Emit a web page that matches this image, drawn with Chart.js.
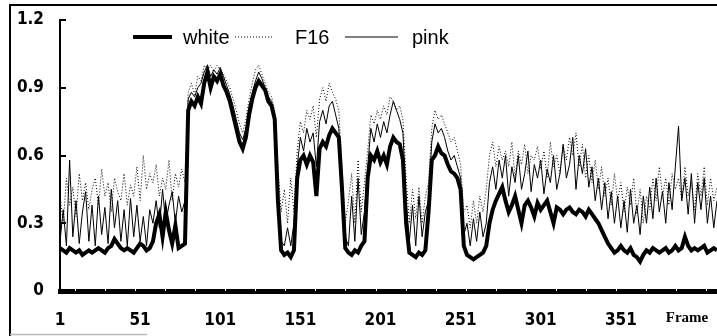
<!DOCTYPE html>
<html><head><meta charset="utf-8">
<script src="https://cdn.jsdelivr.net/npm/chart.js@4/dist/chart.umd.min.js"></script>
<style>html,body{margin:0;padding:0;background:#fff;overflow:hidden}#wrap{position:relative;width:717px;height:336px}</style>
</head><body><div id="wrap"><canvas id="c" width="717" height="336"></canvas></div>
<script>
// Frames sampled every 2 frames: 1,3,5,...,411
const firstFrame = 1, frameStep = 2, frameCount = 206;
const xTickLabels = ['1','51','101','151','201','251','301','351'];
const yTicks = [0, 0.3, 0.6, 0.9, 1.2];
const seriesNames = ['white', 'F16', 'pink'];

const white = [
0.19,0.18,0.17,0.19,0.18,0.17,0.18,0.16,0.17,0.18,
0.17,0.18,0.19,0.18,0.17,0.19,0.20,0.23,0.21,0.19,
0.18,0.19,0.18,0.17,0.19,0.21,0.20,0.18,0.19,0.22,
0.30,0.34,0.24,0.35,0.27,0.21,0.29,0.19,0.20,0.21,
0.80,0.84,0.82,0.86,0.83,0.92,0.97,0.90,0.95,0.93,
0.96,0.91,0.88,0.84,0.78,0.72,0.66,0.63,0.68,0.78,
0.85,0.90,0.93,0.91,0.89,0.84,0.82,0.76,0.40,0.18,
0.16,0.17,0.15,0.18,0.50,0.58,0.60,0.56,0.60,0.57,
0.42,0.63,0.66,0.64,0.69,0.72,0.70,0.68,0.45,0.19,
0.17,0.16,0.18,0.17,0.20,0.22,0.50,0.60,0.58,0.62,
0.57,0.60,0.56,0.64,0.68,0.66,0.65,0.58,0.30,0.17,
0.16,0.15,0.17,0.16,0.18,0.35,0.58,0.60,0.64,0.61,
0.60,0.56,0.53,0.52,0.50,0.45,0.20,0.16,0.15,0.14,
0.15,0.16,0.17,0.20,0.30,0.36,0.40,0.43,0.46,0.40,
0.35,0.38,0.42,0.36,0.30,0.38,0.40,0.37,0.33,0.39,
0.36,0.38,0.40,0.35,0.30,0.37,0.36,0.34,0.36,0.37,
0.35,0.34,0.36,0.35,0.33,0.36,0.34,0.32,0.30,0.27,
0.24,0.21,0.19,0.17,0.18,0.20,0.18,0.17,0.19,0.16,
0.15,0.13,0.16,0.18,0.17,0.19,0.18,0.17,0.18,0.19,
0.17,0.18,0.20,0.18,0.19,0.24,0.20,0.18,0.19,0.18,
0.19,0.20,0.17,0.18,0.19,0.18];

const f16 = [
0.42,0.30,0.50,0.38,0.46,0.33,0.52,0.40,0.48,0.36,
0.45,0.50,0.38,0.54,0.42,0.48,0.35,0.50,0.44,0.40,
0.52,0.38,0.47,0.42,0.55,0.40,0.60,0.45,0.52,0.48,
0.56,0.42,0.50,0.45,0.58,0.40,0.52,0.46,0.54,0.48,
0.88,0.92,0.87,0.95,0.93,1.00,0.98,1.00,0.97,1.00,
0.98,0.96,0.93,0.90,0.85,0.80,0.74,0.70,0.76,0.85,
0.92,0.98,1.00,0.96,0.92,0.88,0.86,0.80,0.55,0.35,
0.45,0.30,0.50,0.35,0.62,0.75,0.70,0.80,0.76,0.82,
0.68,0.85,0.90,0.84,0.92,0.88,0.85,0.80,0.55,0.30,
0.40,0.52,0.30,0.58,0.35,0.48,0.62,0.78,0.74,0.80,
0.76,0.82,0.78,0.86,0.84,0.80,0.82,0.76,0.50,0.30,
0.45,0.32,0.46,0.30,0.42,0.48,0.72,0.80,0.76,0.78,
0.74,0.70,0.66,0.68,0.62,0.56,0.35,0.38,0.28,0.40,
0.30,0.42,0.35,0.45,0.60,0.66,0.55,0.64,0.58,0.62,
0.55,0.66,0.50,0.62,0.56,0.65,0.52,0.60,0.58,0.64,
0.54,0.62,0.50,0.66,0.55,0.60,0.52,0.64,0.58,0.68,
0.60,0.70,0.55,0.65,0.50,0.60,0.48,0.58,0.45,0.55,
0.42,0.50,0.38,0.52,0.40,0.48,0.35,0.46,0.38,0.50,
0.34,0.45,0.30,0.42,0.36,0.50,0.40,0.55,0.42,0.50,
0.38,0.52,0.45,0.50,0.40,0.55,0.42,0.48,0.36,0.52,
0.42,0.55,0.38,0.50,0.40,0.46];

const pink = [
0.22,0.36,0.20,0.58,0.24,0.40,0.21,0.35,0.44,0.22,
0.38,0.20,0.42,0.25,0.37,0.21,0.45,0.28,0.40,0.22,
0.36,0.20,0.41,0.24,0.38,0.22,0.33,0.20,0.36,0.30,
0.40,0.28,0.45,0.30,0.38,0.44,0.30,0.42,0.35,0.40,
0.85,0.88,0.86,0.90,0.92,0.97,1.00,0.95,0.98,0.96,
0.99,0.95,0.91,0.87,0.82,0.76,0.70,0.67,0.72,0.82,
0.88,0.93,0.97,0.94,0.90,0.86,0.84,0.78,0.45,0.22,
0.20,0.28,0.20,0.30,0.55,0.68,0.62,0.72,0.66,0.70,
0.55,0.75,0.80,0.74,0.82,0.84,0.78,0.72,0.48,0.24,
0.20,0.42,0.22,0.50,0.25,0.35,0.55,0.72,0.66,0.74,
0.68,0.75,0.70,0.78,0.84,0.80,0.76,0.70,0.40,0.22,
0.38,0.20,0.42,0.24,0.35,0.40,0.66,0.74,0.70,0.72,
0.68,0.62,0.58,0.60,0.55,0.50,0.25,0.30,0.20,0.32,
0.22,0.35,0.24,0.30,0.48,0.55,0.45,0.58,0.50,0.60,
0.42,0.55,0.48,0.60,0.45,0.52,0.62,0.44,0.56,0.50,
0.58,0.43,0.54,0.48,0.60,0.45,0.52,0.65,0.50,0.56,
0.68,0.45,0.60,0.52,0.63,0.46,0.55,0.40,0.50,0.36,
0.48,0.32,0.44,0.30,0.42,0.28,0.40,0.26,0.45,0.30,
0.38,0.25,0.42,0.30,0.46,0.32,0.50,0.35,0.44,0.30,
0.48,0.36,0.55,0.73,0.40,0.50,0.34,0.52,0.30,0.48,
0.36,0.50,0.30,0.42,0.28,0.40];

const frames = [];
for (let i = 0; i < frameCount; i++) frames.push(String(firstFrame + i * frameStep));

const numFont = '"Liberation Sans Narrow","DejaVu Sans Condensed","Liberation Sans",Arial,sans-serif';

const deco = {
  id: 'deco',
  beforeDraw(chart) {
    const c = chart.ctx;
    c.save();
    c.fillStyle = '#fff';
    c.fillRect(0, 0, chart.width, chart.height);
    c.strokeStyle = '#000';
    c.lineWidth = 2;
    c.beginPath();
    c.moveTo(10, 336); c.lineTo(10, 5); c.lineTo(717, 5);
    c.stroke();
    c.strokeStyle = '#bbb';
    c.lineWidth = 1.5;
    c.beginPath(); c.moveTo(10, 334.5); c.lineTo(147, 334.5); c.stroke();
    c.restore();
  },
  afterDraw(chart) {
    const c = chart.ctx, xs = chart.scales.x, ys = chart.scales.y;
    c.save();
    // inward y tick marks
    c.strokeStyle = '#000'; c.lineWidth = 2;
    yTicks.forEach(v => {
      const y = Math.round(ys.getPixelForValue(v));
      c.beginPath(); c.moveTo(ys.right, y); c.lineTo(ys.right + 6, y); c.stroke();
    });
    // white notch tick marks on the thick x axis bar
    c.strokeStyle = '#fff'; c.lineWidth = 1;
    const b = chart.chartArea.bottom;
    for (let f = 10.4; f <= 420; f += 18.75) {
      const x = Math.round(xs.getPixelForValue((f - firstFrame) / frameStep)) + 0.5;
      c.beginPath(); c.moveTo(x, b - 3); c.lineTo(x, b); c.stroke();
    }
    // legend (floating inside the plot)
    const items = [
      {ds: 0, x0: 133, x1: 172, tx: 183},
      {ds: 1, x0: 235, x1: 272, tx: 295},
      {ds: 2, x0: 345, x1: 398, tx: 412}
    ];
    const ly = 37;
    c.font = '20px "Liberation Sans", Arial, sans-serif';
    c.textBaseline = 'middle';
    c.fillStyle = '#000';
    items.forEach(it => {
      const d = chart.data.datasets[it.ds];
      c.strokeStyle = '#000';
      c.lineWidth = d.borderWidth;
      c.setLineDash(d.borderDash || []);
      c.beginPath(); c.moveTo(it.x0, ly); c.lineTo(it.x1, ly); c.stroke();
      c.setLineDash([]);
      c.fillText(d.label, it.tx, ly + 1);
    });
    // axis title "Frame"
    c.font = 'bold 15px "Liberation Serif", "Times New Roman", serif';
    c.textAlign = 'center';
    c.fillText('Frame', 687, 318);
    c.restore();
  }
};

new Chart(document.getElementById('c'), {
  type: 'line',
  data: {
    labels: frames,
    datasets: [
      {label: seriesNames[0], data: white, borderColor: '#000', borderWidth: 4, pointRadius: 0, tension: 0, order: 0},
      {label: seriesNames[1], data: f16, borderColor: '#000', borderWidth: 1, borderDash: [1, 2], pointRadius: 0, tension: 0, order: 2},
      {label: seriesNames[2], data: pink, borderColor: '#000', borderWidth: 1, pointRadius: 0, tension: 0, order: 1}
    ]
  },
  options: {
    responsive: false,
    animation: false,
    devicePixelRatio: 1,
    layout: {padding: {top: 20, right: 0, left: 0, bottom: 0}},
    plugins: {legend: {display: false}, tooltip: {enabled: false}, title: {display: false}},
    scales: {
      x: {
        type: 'category',
        offset: false,
        grid: {display: false, drawTicks: false},
        border: {display: true, color: '#000', width: 5},
        ticks: {
          autoSkip: false, maxRotation: 0, minRotation: 0, padding: 19,
          color: '#000',
          font: {family: numFont, weight: 'bold', size: 17},
          callback: function(v, i) { const l = frames[i]; return xTickLabels.includes(l) ? l : ''; }
        },
        afterFit(s) { s.height = 45; s.paddingRight = 0; s.paddingLeft = 0; }
      },
      y: {
        min: 0, max: 1.2,
        grid: {display: false, drawTicks: false},
        border: {display: true, color: '#000', width: 2},
        afterBuildTicks(s) { s.ticks = yTicks.map(v => ({value: v})); },
        ticks: {
          padding: 16, color: '#000',
          font: {family: numFont, weight: 'bold', size: 17},
          callback: v => v === 0 ? '0' : v.toFixed(1)
        },
        afterFit(s) { s.width = 60; s.paddingTop = 0; s.paddingBottom = 0; }
      }
    }
  },
  plugins: [deco]
});
</script>
</body></html>
